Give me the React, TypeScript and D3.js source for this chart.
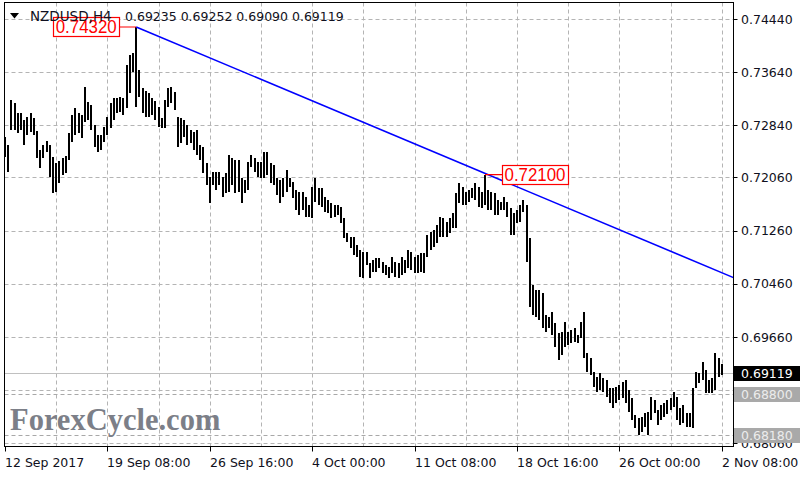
import React, { useEffect, useRef } from 'react';
import * as d3 from 'd3';

const symbol = 'NZDUSD,H4';
// open, high, low, close of the last bar (shown in the title)
const lastBar = [0.69235, 0.69252, 0.6909, 0.69119];

// H4 bar highs / lows, 12 Sep 2017 .. 2 Nov 2017 08:00
const highs = [
  0.72666, 0.72546, 0.73222, 0.73177, 0.73027, 0.73027, 0.72922, 0.72967, 0.73027, 0.72952,
  0.72756, 0.72471, 0.72546, 0.72606, 0.72546, 0.72366, 0.72275, 0.72305, 0.72351, 0.72381,
  0.72726, 0.72997, 0.73102, 0.73027, 0.72997, 0.73418, 0.73192, 0.73147, 0.72847, 0.72696,
  0.72696, 0.72817, 0.72967, 0.73177, 0.73253, 0.73253, 0.73268, 0.73253, 0.73749, 0.73899,
  0.73929, 0.7432, 0.73673, 0.73403, 0.73358, 0.73328, 0.73253, 0.73207, 0.73117, 0.72952,
  0.73222, 0.73403, 0.73418, 0.73343, 0.72967, 0.72952, 0.72922, 0.72847, 0.72771, 0.72741,
  0.72771, 0.72546, 0.72516, 0.72275, 0.72065, 0.7214, 0.7214, 0.7214, 0.72065, 0.72125,
  0.72396, 0.72351, 0.72321, 0.72321, 0.7205, 0.7202, 0.72291, 0.72396, 0.72351, 0.72291,
  0.72291, 0.72441, 0.72441, 0.72275, 0.72245, 0.7205, 0.7202, 0.7205, 0.7217, 0.7205,
  0.7199, 0.7187, 0.71839, 0.71839, 0.71764, 0.71644, 0.71915, 0.7205, 0.719, 0.719,
  0.71764, 0.71719, 0.71674, 0.71644, 0.71644, 0.71614, 0.71449, 0.71223, 0.71163, 0.71163,
  0.71043, 0.70968, 0.70937, 0.70937, 0.70772, 0.70817, 0.70847, 0.70847, 0.70787, 0.70742,
  0.70712, 0.70862, 0.70787, 0.70772, 0.70862, 0.70817, 0.70968, 0.70937, 0.70862, 0.70892,
  0.70922, 0.70922, 0.71193, 0.71238, 0.71268, 0.71343, 0.71464, 0.71449, 0.71389, 0.71449,
  0.71524, 0.71824, 0.71975, 0.71915, 0.71839, 0.7187, 0.719, 0.71975, 0.71915, 0.71839,
  0.721, 0.7187, 0.71839, 0.71824, 0.71719, 0.71689, 0.71764, 0.71689, 0.71599, 0.71524,
  0.71569, 0.71644, 0.71719, 0.71644, 0.71148, 0.70442, 0.70366, 0.70366, 0.70321, 0.6999,
  0.6996, 0.70036, 0.6987, 0.6972, 0.69735, 0.69885, 0.69735, 0.69765, 0.69795, 0.6969,
  0.69885, 0.70036, 0.69419, 0.69344, 0.69134, 0.69059, 0.69119, 0.69044, 0.69013, 0.68893,
  0.68893, 0.68908, 0.68938, 0.68983, 0.69013, 0.68863, 0.68743, 0.68487, 0.68442, 0.68457,
  0.68517, 0.68532, 0.68758, 0.68713, 0.68563, 0.68638, 0.68668, 0.68713, 0.68743, 0.68833,
  0.68758, 0.68593, 0.68638, 0.68517, 0.68517, 0.68893, 0.69134, 0.69119, 0.69284, 0.69164,
  0.69013, 0.69044, 0.69419, 0.69344, 0.69252,
];
const lows = [
  0.72366, 0.7214, 0.72771, 0.72771, 0.72726, 0.72771, 0.72546, 0.72696, 0.72741, 0.72696,
  0.72351, 0.722, 0.72351, 0.72441, 0.72065, 0.71824, 0.71839, 0.71975, 0.72095, 0.72125,
  0.72321, 0.72591, 0.72696, 0.72726, 0.72651, 0.72892, 0.72922, 0.72771, 0.72516, 0.72441,
  0.72471, 0.72591, 0.72696, 0.72802, 0.72922, 0.73027, 0.73042, 0.72997, 0.73102, 0.73328,
  0.73643, 0.73117, 0.73268, 0.73027, 0.72967, 0.72967, 0.72997, 0.72922, 0.72817, 0.72802,
  0.72802, 0.73117, 0.73177, 0.73072, 0.72516, 0.72576, 0.72666, 0.72546, 0.72576, 0.72471,
  0.72396, 0.72321, 0.72125, 0.71945, 0.71674, 0.71945, 0.7187, 0.71945, 0.71764, 0.71824,
  0.71839, 0.71945, 0.71824, 0.71839, 0.71674, 0.71824, 0.7187, 0.72215, 0.7214, 0.72065,
  0.7205, 0.7205, 0.72095, 0.71975, 0.71945, 0.71794, 0.71674, 0.71764, 0.71839, 0.71915,
  0.71749, 0.71569, 0.71494, 0.71569, 0.71464, 0.71464, 0.71449, 0.71689, 0.71644, 0.71614,
  0.71539, 0.71524, 0.71449, 0.71464, 0.71494, 0.71374, 0.71148, 0.71088, 0.70998, 0.70892,
  0.70862, 0.70562, 0.70547, 0.70742, 0.70547, 0.70637, 0.70637, 0.70697, 0.70622, 0.70592,
  0.70547, 0.70622, 0.70562, 0.70547, 0.70592, 0.70622, 0.70697, 0.70667, 0.70622, 0.70622,
  0.70637, 0.70622, 0.70862, 0.70968, 0.71013, 0.71073, 0.71163, 0.71163, 0.71163, 0.71223,
  0.71298, 0.71298, 0.71674, 0.71644, 0.71644, 0.71689, 0.71749, 0.71719, 0.71614, 0.71599,
  0.71644, 0.71569, 0.71569, 0.71494, 0.71494, 0.71569, 0.71569, 0.71464, 0.71193, 0.71193,
  0.71374, 0.71389, 0.71539, 0.70787, 0.70111, 0.69991, 0.69961, 0.69916, 0.69796, 0.69735,
  0.69795, 0.6969, 0.6951, 0.69314, 0.69389, 0.6951, 0.6954, 0.6957, 0.69585, 0.6957,
  0.69645, 0.69344, 0.69134, 0.69089, 0.68908, 0.68833, 0.68863, 0.68833, 0.68758, 0.68668,
  0.68593, 0.68668, 0.68713, 0.68743, 0.68668, 0.68532, 0.68412, 0.68292, 0.6818, 0.68232,
  0.68307, 0.68185, 0.68412, 0.68517, 0.68337, 0.68412, 0.68457, 0.68502, 0.68563, 0.68608,
  0.68412, 0.68337, 0.68367, 0.68307, 0.68307, 0.68292, 0.68893, 0.68968, 0.69013, 0.68818,
  0.68818, 0.68818, 0.68863, 0.69059, 0.6909,
];

const priceTicks = [0.7444, 0.7364, 0.7284, 0.7206, 0.7126, 0.7046, 0.6966, 0.6886, 0.6806];
const timeLabels = [
  '12 Sep 2017', '19 Sep 08:00', '26 Sep 16:00', '4 Oct 00:00',
  '11 Oct 08:00', '18 Oct 16:00', '26 Oct 00:00', '2 Nov 08:00',
];
const barsPerLabel = 32;
const barsPerGrid = 16;

// marked swing highs and the falling trend line through them
const swingMarks = [
  { bar: 41, price: 0.7432, side: 'left' },
  { bar: 150, price: 0.721, side: 'right' },
];
const trendAnchors = [
  { bar: 41, price: 0.7432 },
  { bar: 150, price: 0.7212 },
];
const bidPrice = 0.69119;
const supportLevels = [0.688, 0.6818];

const FONT = '"DejaVu Sans", Tahoma, sans-serif';

const App: React.FC = () => {
  const svgRef = useRef<SVGSVGElement>(null);

  useEffect(() => {
    if (!svgRef.current) return;
    const svg = d3.select(svgRef.current);
    svg.selectAll('*').remove();

    const left = 4.5, right = 733.5, top = 2.5, bottom = 446.5;

    const x = d3.scaleLinear().domain([0, highs.length - 1]).range([5, 721.8]);
    const y = d3.scaleLinear().domain([0.6966, 0.7444]).range([337, 19]);

    svg.append('rect').attr('width', 800).attr('height', 480).attr('fill', '#fff');

    svg.append('defs').append('clipPath').attr('id', 'plot')
      .append('rect').attr('x', left).attr('y', top)
      .attr('width', right - left).attr('height', bottom - top);

    const plot = svg.append('g').attr('clip-path', 'url(#plot)');

    // grid
    priceTicks.forEach(p => {
      const yy = Math.round(y(p)) + 0.5;
      plot.append('line').attr('x1', left).attr('x2', right).attr('y1', yy).attr('y2', yy)
        .attr('stroke', '#b4b4b4').attr('stroke-dasharray', '4,3');
    });
    for (let b = barsPerGrid; b < highs.length + barsPerGrid; b += barsPerGrid) {
      const xx = Math.round(x(b)) + 0.5;
      plot.append('line').attr('x1', xx).attr('x2', xx).attr('y1', top).attr('y2', bottom)
        .attr('stroke', '#b4b4b4').attr('stroke-dasharray', '4,3');
    }

    // watermark
    svg.append('text')
      .attr('x', 10).attr('y', 430)
      .attr('font-family', '"Liberation Serif", "Times New Roman", serif')
      .attr('font-weight', 'bold').attr('font-size', 30.5)
      .attr('fill', '#7c7f88')
      .text('ForexCycle.com');

    // support levels and bid line
    supportLevels.forEach(p => {
      const yy = Math.round(y(p)) + 0.5;
      plot.append('line').attr('x1', left).attr('x2', right).attr('y1', yy).attr('y2', yy)
        .attr('stroke', '#a8a8a8').attr('stroke-dasharray', '4,3');
    });
    const bidY = Math.round(y(bidPrice)) + 0.5;
    plot.append('line').attr('x1', left).attr('x2', right).attr('y1', bidY).attr('y2', bidY)
      .attr('stroke', '#c0c0c0');

    // bars
    plot.append('g').selectAll('rect').data(highs).join('rect')
      .attr('x', (_, i) => Math.round(x(i)) - 1)
      .attr('y', d => y(d))
      .attr('width', 2)
      .attr('height', (d, i) => Math.max(1, y(lows[i]) - y(d)))
      .attr('fill', '#000')
      .attr('shape-rendering', 'crispEdges');

    // trend line, extended to the right edge
    const [a, b] = trendAnchors;
    const slope = (b.price - a.price) / (b.bar - a.bar);
    const endBar = x.invert(right);
    plot.append('line')
      .attr('x1', x(a.bar)).attr('y1', y(a.price))
      .attr('x2', right).attr('y2', y(a.price + slope * (endBar - a.bar)))
      .attr('stroke', '#0000ff').attr('stroke-width', 1.6);

    // swing price labels
    swingMarks.forEach(m => {
      const px = x(m.bar);
      const py = y(m.price);
      const bw = 66, bh = 19;
      const bx = m.side === 'left' ? px - 17 - bw : px + 17;
      plot.append('line')
        .attr('x1', m.side === 'left' ? bx + bw : px).attr('x2', m.side === 'left' ? px : bx)
        .attr('y1', py).attr('y2', py)
        .attr('stroke', '#ff0000').attr('stroke-width', 1.2);
      plot.append('rect')
        .attr('x', Math.round(bx) + 0.5).attr('y', Math.round(py - bh / 2) + 0.5)
        .attr('width', bw).attr('height', bh)
        .attr('fill', '#fff').attr('stroke', '#ff0000').attr('stroke-width', 1.2);
      plot.append('text')
        .attr('x', bx + bw / 2).attr('y', py + 6.5)
        .attr('text-anchor', 'middle')
        .attr('font-family', '"Liberation Sans", Arial, sans-serif')
        .attr('font-size', 18)
        .attr('textLength', 61).attr('lengthAdjust', 'spacingAndGlyphs')
        .attr('fill', '#ff0000')
        .text(m.price.toFixed(5));
    });

    // frame
    svg.append('rect')
      .attr('x', left).attr('y', top).attr('width', right - left).attr('height', bottom - top)
      .attr('fill', 'none').attr('stroke', '#000');

    // price axis
    const boxes = [
      { price: bidPrice, fill: '#000', color: '#fff' },
      ...supportLevels.map(p => ({ price: p, fill: '#a9a9a9', color: '#ececec' })),
    ];
    priceTicks.forEach(p => {
      const yy = y(p);
      svg.append('line').attr('x1', right).attr('x2', right + 4)
        .attr('y1', Math.round(yy) + 0.5).attr('y2', Math.round(yy) + 0.5).attr('stroke', '#000');
      if (boxes.some(bx => Math.abs(y(bx.price) - yy) < 6)) return;
      svg.append('text')
        .attr('x', 741).attr('y', yy + 4.5)
        .attr('font-family', FONT).attr('font-size', 12.5).attr('fill', '#101020')
        .text(p.toFixed(5));
    });
    boxes.forEach(bx => {
      const yy = y(bx.price);
      svg.append('rect').attr('x', 734).attr('y', Math.round(yy) - 7)
        .attr('width', 66).attr('height', 15).attr('fill', bx.fill);
      svg.append('text')
        .attr('x', 741).attr('y', yy + 5)
        .attr('font-family', FONT).attr('font-size', 12.5).attr('fill', bx.color)
        .text(bx.price.toFixed(5));
    });

    // time axis
    timeLabels.forEach((t, k) => {
      const xx = Math.round(x(k * barsPerLabel)) + 0.5;
      svg.append('line').attr('x1', xx).attr('x2', xx).attr('y1', bottom).attr('y2', bottom + 5)
        .attr('stroke', '#000');
      svg.append('text')
        .attr('x', xx - 0.5).attr('y', 467)
        .attr('font-family', FONT).attr('font-size', 12.5).attr('fill', '#101020')
        .text(t);
    });

    // title
    svg.append('path').attr('d', 'M10,13 L19,13 L14.5,18.5 Z').attr('fill', '#000');
    svg.append('text')
      .attr('x', 30).attr('y', 21)
      .attr('font-family', FONT).attr('font-size', 13.5).attr('fill', '#101020')
      .text(symbol);
    svg.append('text')
      .attr('x', 125).attr('y', 21)
      .attr('font-family', FONT).attr('font-size', 12.5).attr('fill', '#101020')
      .text(lastBar.map(v => v.toFixed(5)).join(' '));
  }, []);

  return (
    <svg
      ref={svgRef}
      width={800}
      height={480}
      style={{ position: 'fixed', left: 0, top: 0, display: 'block' }}
    />
  );
};

export default App;
